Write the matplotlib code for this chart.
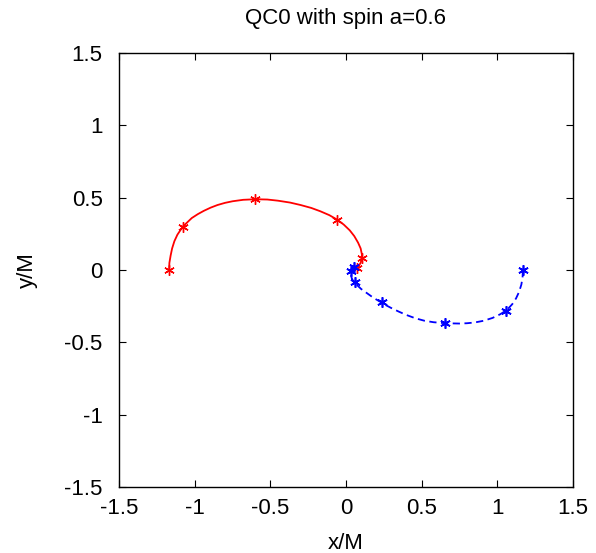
import matplotlib
matplotlib.use('Agg')
from matplotlib import pyplot as plt

# Red trajectory (solid)
red_x = [-1.17, -1.168, -1.16, -1.15, -1.135, -1.115, -1.08, -1.05, -1.02, -0.98,
         -0.94, -0.895, -0.85, -0.80, -0.75, -0.68, -0.60, -0.52, -0.45, -0.37,
         -0.30, -0.23, -0.17, -0.11, -0.06, -0.015, 0.025, 0.055, 0.08, 0.097,
         0.105, 0.105, 0.097, 0.085, 0.07]
red_y = [0.0, 0.05, 0.10, 0.15, 0.20, 0.245, 0.30, 0.33, 0.36, 0.387,
         0.41, 0.432, 0.45, 0.465, 0.476, 0.486, 0.49, 0.488, 0.48, 0.467,
         0.45, 0.43, 0.407, 0.38, 0.35, 0.315, 0.275, 0.235, 0.19, 0.15,
         0.11, 0.08, 0.05, 0.03, 0.015]
red_mx = [-1.17, -1.08, -0.60, -0.06, 0.105, 0.07]
red_my = [0.0, 0.30, 0.49, 0.345, 0.083, 0.014]

# Blue trajectory (dashed)
blue_x = [1.17, 1.168, 1.16, 1.145, 1.125, 1.10, 1.065, 1.02, 0.97, 0.91,
          0.85, 0.80, 0.75, 0.70, 0.65, 0.58, 0.52, 0.46, 0.40, 0.35,
          0.30, 0.26, 0.23, 0.18, 0.14, 0.10, 0.07, 0.05, 0.038, 0.032,
          0.032, 0.04, 0.055]
blue_y = [0.0, -0.05, -0.10, -0.15, -0.195, -0.235, -0.275, -0.305, -0.33, -0.35,
          -0.362, -0.367, -0.369, -0.368, -0.366, -0.36, -0.35, -0.333, -0.31, -0.287,
          -0.262, -0.24, -0.221, -0.19, -0.16, -0.13, -0.10, -0.08, -0.055, -0.03,
          -0.005, 0.01, 0.02]
blue_mx = [1.17, 1.06, 0.655, 0.24, 0.06, 0.035, 0.05]
blue_my = [0.0, -0.283, -0.366, -0.221, -0.083, -0.005, 0.02]

ticks = [-1.5, -1, -0.5, 0, 0.5, 1, 1.5]
tick_labels = ['-1.5', '-1', '-0.5', '0', '0.5', '1', '1.5']

plt.rcParams['font.family'] = ['Liberation Sans', 'DejaVu Sans']

fig = plt.figure(figsize=(5.96, 5.53), dpi=100)
ax = fig.add_axes([0.2, 0.119, 0.761, 0.785])

ax.plot(red_x, red_y, color='red', lw=1.3)
ax.plot(red_mx, red_my, ls='none', marker=(6, 2, 0), color='red', ms=7.5, mew=1.0)
ax.plot(blue_x, blue_y, color='blue', lw=1.3, ls=(0, (4, 2.5)))
ax.plot(blue_mx, blue_my, ls='none', marker=(6, 2, 0), color='blue', ms=7.5, mew=1.2)

ax.set_xlim(-1.5, 1.5)
ax.set_ylim(-1.5, 1.5)
ax.set_xticks(ticks)
ax.set_xticklabels(tick_labels)
ax.set_yticks(ticks)
ax.set_yticklabels(tick_labels)
ax.tick_params(direction='in', top=True, right=True, labelsize=16, length=5)
ax.tick_params(axis='x', pad=8)
ax.tick_params(axis='y', pad=12)
for s in ax.spines.values():
    s.set_linewidth(1.0)

ax.set_xlabel('x/M', fontsize=16, labelpad=10)
ax.set_ylabel('y/M', fontsize=16, labelpad=19)
ax.set_title('QC0 with spin a=0.6', fontsize=16, pad=21)

fig.savefig('out.png', dpi=100)
